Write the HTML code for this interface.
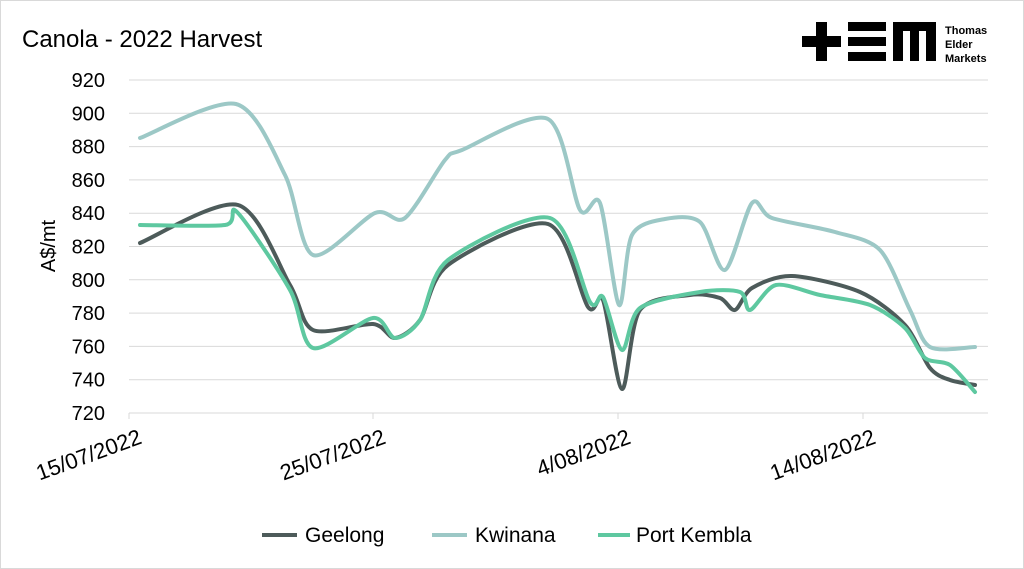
<!DOCTYPE html>
<html><head><meta charset="utf-8"><style>
body{margin:0;background:#fff;}
svg{display:block;font-family:"Liberation Sans",sans-serif;}
</style></head><body>
<svg id="s" width="1024" height="569" viewBox="0 0 1024 569">
<rect x="0.5" y="0.5" width="1023" height="568" fill="#fff" stroke="#d9d9d9"/>
<text x="22" y="47" font-size="24" fill="#000">Canola - 2022 Harvest</text>
<g id="grid" stroke="#d9d9d9" stroke-width="1"></g>
<g font-size="20" fill="#000" text-anchor="end" id="yl"></g>
<text transform="translate(55,246) rotate(-90)" font-size="20" text-anchor="middle">A$/mt</text>
<g font-size="22" text-anchor="end">
<text transform="translate(143,443) rotate(-20)">15/07/2022</text>
<text transform="translate(387,443) rotate(-20)">25/07/2022</text>
<text transform="translate(632,443) rotate(-20)">4/08/2022</text>
<text transform="translate(877,443) rotate(-20)">14/08/2022</text>
</g>
<g fill="none" stroke-width="4" stroke-linecap="round" stroke-linejoin="round">
<path id="k" stroke="#9cc8c6"/><path id="g" stroke="#4d5b5a"/><path id="p" stroke="#5ec8a0"/>
</g>
<g font-size="21">
<line x1="262" y1="535" x2="297" y2="535" stroke="#4d5b5a" stroke-width="4"/><text x="305" y="542">Geelong</text>
<line x1="432" y1="535" x2="467" y2="535" stroke="#9cc8c6" stroke-width="4"/><text x="475" y="542">Kwinana</text>
<line x1="598" y1="535" x2="630" y2="535" stroke="#5ec8a0" stroke-width="4"/><text x="636" y="542">Port Kembla</text>
</g>
<g fill="#000">
<rect x="816" y="22" width="11" height="39"/><rect x="802" y="36" width="39" height="11"/>
<rect x="848" y="22" width="38" height="9"/><rect x="848" y="37" width="38" height="9"/><rect x="848" y="52" width="38" height="9"/>
<path d="M893 22H936V61H926V31H919V61H910V31H903V61H893Z"/>
<text x="945" y="34" font-size="11" font-weight="bold">Thomas</text>
<text x="945" y="48" font-size="11" font-weight="bold">Elder</text>
<text x="945" y="62" font-size="11" font-weight="bold">Markets</text>
</g>
</svg>
<script>
var g=document.getElementById('grid'),yl=document.getElementById('yl'),ns='http://www.w3.org/2000/svg';
for(var i=0;i<=10;i++){var y=413-i*33.3;var l=document.createElementNS(ns,'line');l.setAttribute('x1',129);l.setAttribute('x2',988);l.setAttribute('y1',y);l.setAttribute('y2',y);g.appendChild(l);
var t=document.createElementNS(ns,'text');t.setAttribute('x',105);t.setAttribute('y',y+7);t.textContent=720+i*20;yl.appendChild(t);}
[129,373,618,863].forEach(function(x){var l=document.createElementNS(ns,'line');l.setAttribute('x1',x);l.setAttribute('x2',x);l.setAttribute('y1',413);l.setAttribute('y2',419);g.appendChild(l);});
function cr(p){var f=7,d='M'+p[0][0]+' '+p[0][1];for(var i=0;i<p.length-1;i++){var a=p[i-1]||p[i],b=p[i],c=p[i+1],e=p[i+2]||c;
d+=' C'+(b[0]+(c[0]-a[0])/f)+' '+(b[1]+(c[1]-a[1])/f)+' '+(c[0]-(e[0]-b[0])/f)+' '+(c[1]-(e[1]-b[1])/f)+' '+c[0]+' '+c[1];}return d;}
var K=[[140,138],[236,104],[285,175],[313,255],[375,213],[405,218],[445,160],[462,150],[548,119],[580,210],[600,203],[619,305],[632,235],[665,219],[700,222],[725,270],[752,203],[772,218],[835,232],[880,250],[910,310],[930,347],[975,347]];
var G=[[140,243],[238,205],[290,285],[313,330],[373,324],[395,338],[420,320],[448,265],[548,224],[588,307],[603,300],[622,389],[640,310],[690,295],[720,298],[735,310],[752,288],[792,276],[860,292],[905,325],[930,368],[950,380],[975,385]];
var P=[[140,225],[225,225],[237,212],[290,290],[313,348],[373,318],[395,338],[420,320],[448,260],[550,218],[590,302],[603,297],[622,350],[640,308],[700,292],[740,292],[750,310],[776,285],[820,295],[870,305],[905,328],[925,358],[950,365],[975,392]];
document.getElementById('k').setAttribute('d',cr(K));
document.getElementById('g').setAttribute('d',cr(G));
document.getElementById('p').setAttribute('d',cr(P));
</script>
</body></html>
